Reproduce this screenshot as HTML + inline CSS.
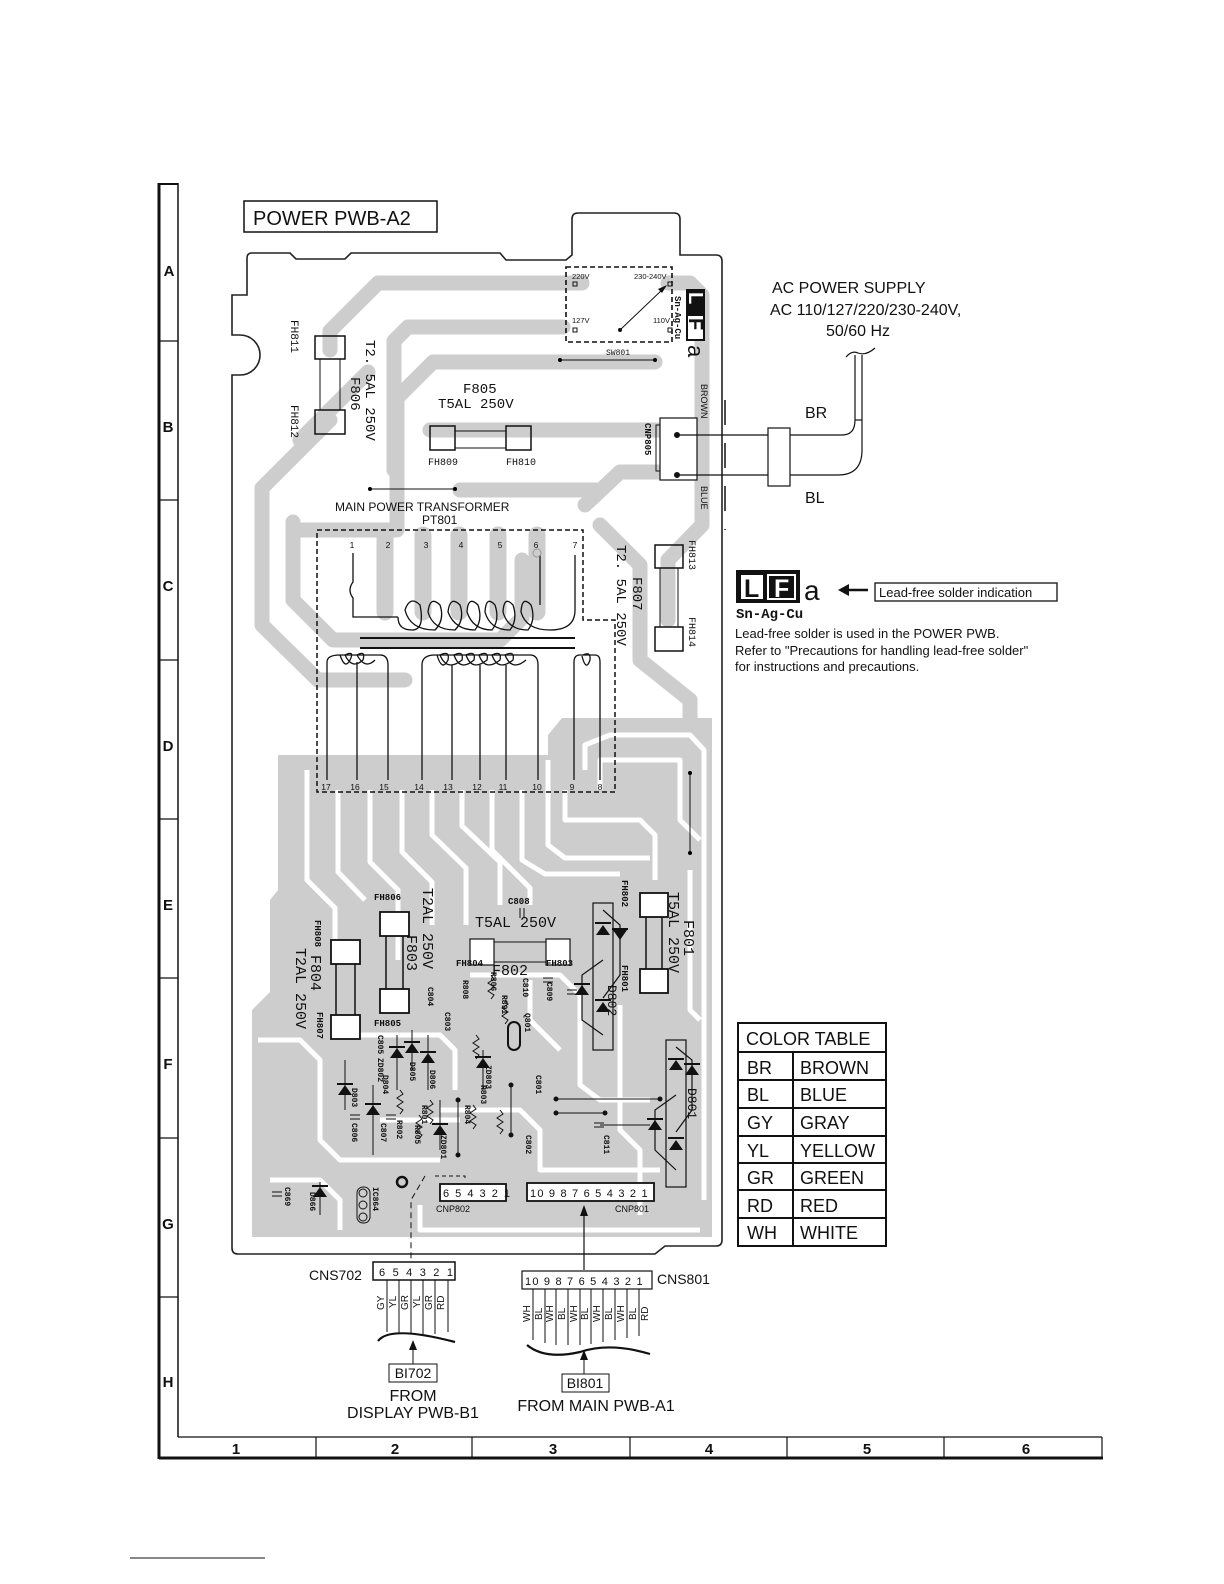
<!DOCTYPE html>
<html><head><meta charset="utf-8"><style>
html,body{margin:0;padding:0;background:#fff}
svg{display:block}
text{font-family:"Liberation Sans",sans-serif;fill:#111}
.m{font-family:"Liberation Mono",monospace}
</style></head><body>
<svg width="1224" height="1584" viewBox="0 0 1224 1584" xmlns="http://www.w3.org/2000/svg">
<!-- frame -->
<g stroke="#111" fill="none">
<line x1="159" y1="183" x2="159" y2="1459" stroke-width="3"/>
<line x1="178" y1="183" x2="178" y2="1437" stroke-width="1.5"/>
<line x1="159" y1="184" x2="178" y2="184" stroke-width="2"/>
<g stroke-width="1.2">
<line x1="159" y1="341" x2="178" y2="341"/><line x1="159" y1="500" x2="178" y2="500"/>
<line x1="159" y1="660" x2="178" y2="660"/><line x1="159" y1="819" x2="178" y2="819"/>
<line x1="159" y1="978" x2="178" y2="978"/><line x1="159" y1="1138" x2="178" y2="1138"/>
<line x1="159" y1="1297" x2="178" y2="1297"/>
<line x1="178" y1="1437" x2="1102" y2="1437"/>
<line x1="316" y1="1437" x2="316" y2="1457"/><line x1="472" y1="1437" x2="472" y2="1457"/>
<line x1="630" y1="1437" x2="630" y2="1457"/><line x1="787" y1="1437" x2="787" y2="1457"/>
<line x1="944" y1="1437" x2="944" y2="1457"/><line x1="1102" y1="1437" x2="1102" y2="1457"/>
</g>
<line x1="159" y1="1458" x2="1103" y2="1458" stroke-width="3"/>
</g>
<g font-weight="bold" font-size="15" text-anchor="middle">
<text x="169" y="276">A</text><text x="168" y="432">B</text><text x="168" y="591">C</text>
<text x="168" y="751">D</text><text x="168" y="910">E</text><text x="168" y="1069">F</text>
<text x="168" y="1229">G</text><text x="168" y="1387">H</text>
<text x="236" y="1454">1</text><text x="395" y="1454">2</text><text x="553" y="1454">3</text>
<text x="709" y="1454">4</text><text x="867" y="1454">5</text><text x="1026" y="1454">6</text>
</g>

<!-- gray traces -->
<g stroke="#cdcdcd" fill="none" stroke-linejoin="round" stroke-linecap="round">
<g stroke-width="15">
<path d="M582,283 H378 L330,331 V350"/>
<path d="M330,420 L262,488 V625 L318,680 H405"/>
<path d="M563,327 H408 L394,341 V470"/>
<path d="M560,362 H433 L397,398 V530 L300,530"/>
<path d="M293,522 V600 L333,640 H500 L522,618 V560"/>
<path d="M368,372 L300,440"/>
<path d="M668,283 H690 L702,295 V525 L668,560 V620"/>
<path d="M430,430 H690"/>
<path d="M585,505 L620,472 H690"/>
<path d="M460,490 H600"/>
<path d="M600,525 L640,565 V660 L690,700 V790"/>
<path d="M555,362 H655"/>
</g>
<g stroke-width="17">
<path d="M385,535 V612"/><path d="M423,535 V612"/><path d="M459,535 V612"/>
<path d="M498,535 V612"/><path d="M537,535 V612"/>
</g>
</g>
<!-- lower gray mass -->
<path fill="#cdcdcd" d="M278,755 H548 V735 L562,718 H712 V1237 H252 V1010 L270,992 V900 L278,890 Z"/>
<g stroke="#fff" fill="none" stroke-width="5" stroke-linejoin="round">
<path d="M307,770 V880 L335,908 V960"/>
<path d="M338,790 V872 L365,900"/>
<path d="M370,790 V862 L398,890 V960"/>
<path d="M402,790 V852 L432,882 V925"/>
<path d="M432,790 V835 L466,868 V925"/>
<path d="M462,790 V826 L500,862 V905"/>
<path d="M492,790 V850 L530,888 V905"/>
<path d="M522,790 V860 L545,874 H620"/>
<path d="M548,760 V845 L565,858 H650"/>
<path d="M585,770 V745 L610,735 H690 L704,750 V1200"/>
<path d="M600,790 V760 H680 V820 L700,840"/>
<path d="M565,790 V820 H640 L655,835 V880"/>
<path d="M258,1040 H300 L320,1060 V1140 L340,1160 H440"/>
<path d="M270,1180 H320 L340,1200 V1230"/>
<path d="M360,1035 H440 L455,1050 V1090"/>
<path d="M470,975 H560 L580,995 V1085 L600,1100 H650"/>
<path d="M440,1110 H520 L540,1130 V1170 H660"/>
<path d="M620,1005 V1130 L640,1150 V1215"/>
<path d="M420,1205 V1230 H700"/>
<path d="M560,1050 L530,1020 V980"/>
<path d="M380,1120 H460"/>
<path d="M690,870 V1010 L700,1020"/>
</g>

<!-- board outline -->
<path fill="none" stroke="#222" stroke-width="1.6" d="M247,258 Q247,253 252,253 H290 L296,259 H345 L351,253 H500 L506,260 H566 L572,255 V219 Q572,213 578,213 H674 Q680,213 680,219 V255 H716 Q722,255 722,261 V1240 Q722,1246 716,1246 H665 L655,1254 H238 Q232,1254 232,1248 V375 H240 A20,20 0 0 0 240,335 H232 V295 H247 Z"/>

<!-- title -->
<rect x="244" y="201" width="193" height="31" fill="none" stroke="#111" stroke-width="1.5"/>
<text x="253" y="225" font-size="20">POWER PWB-A2</text>

<!-- SW801 -->
<rect x="566" y="267" width="106" height="75" fill="none" stroke="#111" stroke-width="1.6" stroke-dasharray="5,3"/>
<g font-size="7.5"><text x="572" y="279">220V</text><text x="634" y="279">230-240V</text><text x="572" y="323">127V</text><text x="653" y="323">110V</text>
<text x="606" y="355" class="m" font-size="8">SW801</text></g>
<g fill="none" stroke="#111" stroke-width="1"><rect x="573" y="282" width="4" height="4"/><rect x="668" y="282" width="4" height="4"/><rect x="573" y="328" width="4" height="4"/><rect x="668" y="328" width="4" height="4"/></g>
<line x1="620" y1="330" x2="664" y2="288" stroke="#111" stroke-width="1"/>
<path d="M667,285 L658,289 L662,293 Z" fill="#111"/>
<circle cx="620" cy="330" r="2" fill="#111"/>
<line x1="560" y1="360" x2="655" y2="360" stroke="#111"/><circle cx="560" cy="360" r="2"/><circle cx="655" cy="360" r="2"/>
<!-- LFa on board -->
<rect x="686" y="289" width="19" height="52" fill="#111"/>
<rect x="688" y="316" width="15" height="23" fill="#fff"/>
<text transform="translate(689,292) rotate(90)" font-size="20" font-weight="bold" style="fill:#fff">L</text>
<text transform="translate(689,318) rotate(90)" font-size="20" font-weight="bold">F</text>
<text transform="translate(675,296) rotate(90)" class="m" font-size="9" font-weight="bold">Sn-Ag-Cu</text>
<text transform="translate(688,345) rotate(90)" font-size="22">a</text>

<!-- F806 -->
<g fill="none" stroke="#111" stroke-width="1.5">
<rect x="315" y="336" width="30" height="23"/><rect x="315" y="410" width="30" height="24"/>
<line x1="320" y1="359" x2="320" y2="410" stroke-width="1"/><line x1="340" y1="359" x2="340" y2="410" stroke-width="1"/>
</g>
<g class="m" font-size="11">
<text transform="translate(291,320) rotate(90)" class="m">FH811</text>
<text transform="translate(291,405) rotate(90)" class="m">FH812</text>
<text transform="translate(351,377) rotate(90)" class="m" font-size="14">F806</text>
<text transform="translate(366,340) rotate(90)" class="m" font-size="14">T2. 5AL 250V</text>
</g>
<!-- F805 -->
<g fill="none" stroke="#111" stroke-width="1.5">
<rect x="430" y="426" width="25" height="24"/><rect x="506" y="426" width="25" height="24"/>
<line x1="455" y1="431" x2="506" y2="431" stroke-width="1"/><line x1="455" y1="448" x2="506" y2="448" stroke-width="1"/>
</g>
<text x="463" y="393" class="m" font-size="14">F805</text>
<text x="438" y="408" class="m" font-size="14">T5AL 250V</text>
<text x="428" y="465" class="m" font-size="10">FH809</text><text x="506" y="465" class="m" font-size="10">FH810</text>
<line x1="370" y1="489" x2="455" y2="489" stroke="#111"/><circle cx="370" cy="489" r="2"/><circle cx="455" cy="489" r="2"/>

<!-- CNP805 and AC cable -->
<rect x="660" y="418" width="37" height="62" fill="#fff" stroke="#111" stroke-width="1.2"/>
<rect x="656" y="425" width="4" height="46" fill="none" stroke="#111"/>
<text transform="translate(645,423) rotate(90)" class="m" font-size="9" font-weight="bold">CNP805</text>
<text transform="translate(701,384) rotate(90)" font-size="9">BROWN</text>
<text transform="translate(701,486) rotate(90)" font-size="9">BLUE</text>
<line x1="725" y1="400" x2="725" y2="530" stroke="#111" stroke-width="1.5" stroke-dasharray="25,18"/>
<circle cx="677" cy="435" r="3" fill="#111"/><circle cx="677" cy="475" r="3" fill="#111"/>
<g fill="none" stroke="#111" stroke-width="1.2">
<path d="M677,435 H842 Q855,435 855,420 V355"/>
<path d="M677,475 H838 Q862,475 862,450 V355"/>
<line x1="855" y1="420" x2="862" y2="420"/>
<path d="M846,357 Q852,350 858,353 Q866,356 875,348"/>
<rect x="768" y="428" width="22" height="58" fill="#fff"/>
</g>
<text x="772" y="293" font-size="16">AC POWER SUPPLY</text>
<text x="770" y="315" font-size="16">AC 110/127/220/230-240V,</text>
<text x="826" y="336" font-size="16">50/60 Hz</text>
<text x="805" y="418" font-size="16">BR</text><text x="805" y="503" font-size="16">BL</text>

<!-- transformer -->
<text x="335" y="511" font-size="12">MAIN POWER TRANSFORMER</text>
<text x="422" y="524" font-size="12">PT801</text>
<path d="M317,530 H583 V620 H615 V792 H317 Z" fill="none" stroke="#111" stroke-width="1.5" stroke-dasharray="5,3"/>
<g font-size="8.5" text-anchor="middle">
<text x="352" y="548">1</text><text x="388" y="548">2</text><text x="426" y="548">3</text><text x="461" y="548">4</text><text x="500" y="548">5</text><text x="536" y="548">6</text><text x="575" y="548">7</text>
<text x="326" y="790">17</text><text x="355" y="790">16</text><text x="384" y="790">15</text><text x="419" y="790">14</text><text x="448" y="790">13</text><text x="477" y="790">12</text><text x="503" y="790">11</text><text x="537" y="790">10</text><text x="572" y="790">9</text><text x="600" y="790">8</text>
</g>
<g fill="none" stroke="#111" stroke-width="1.3">
<path d="M353,553 V582 Q347,590 353,598 V617 H398"/>
<path d="M398,617 Q398,630 412,630 Q425,630 420,605 Q410,595 405,610 Q410,630 435,630 Q445,620 440,605 Q430,595 428,612 Q433,630 455,630 Q465,620 460,605 Q450,595 448,612 Q455,630 475,630 Q483,620 478,605 Q468,595 467,612 Q473,630 492,630 Q500,620 495,605 Q486,595 485,612 Q490,630 510,630 Q518,620 513,605 Q504,595 503,612 Q508,630 528,630 Q536,620 531,605 Q522,595 521,612 Q526,630 550,630 Q575,630 575,610 V555"/>
<line x1="540" y1="555" x2="540" y2="605"/>
<line x1="360" y1="638" x2="575" y2="638" stroke-width="2"/>
<line x1="360" y1="648" x2="575" y2="648" stroke-width="2"/>
<path d="M327,780 V662 Q327,655 340,655 H380 Q388,655 388,665 V780"/>
<path d="M340,655 Q345,670 350,660 Q355,650 345,655 Q352,670 363,660 Q366,650 357,655 Q365,670 375,660"/>
<line x1="357" y1="662" x2="357" y2="780"/>
<path d="M422,780 V665 Q422,655 435,655 H530 Q538,655 538,665 V780"/>
<path d="M437,655 Q442,672 448,660 Q450,650 440,655 Q447,672 462,660 Q464,650 454,655 Q460,672 474,660 Q476,650 466,655 Q472,672 487,660 Q489,650 479,655 Q485,672 500,660 Q502,650 492,655 Q498,672 513,660 Q515,650 505,655 Q512,672 526,660"/>
<line x1="452" y1="665" x2="452" y2="780"/><line x1="480" y1="665" x2="480" y2="780"/><line x1="506" y1="665" x2="506" y2="780"/>
<path d="M574,780 V662 Q574,655 580,655 H595 Q600,655 600,662 V780"/>
<path d="M582,656 Q586,672 590,660 Q591,651 583,655"/>
</g>
<circle cx="537" cy="553" r="4" fill="none" stroke="#999"/>
<!-- F807 -->
<g fill="none" stroke="#111" stroke-width="1.5">
<rect x="655" y="545" width="28" height="23"/><rect x="655" y="627" width="28" height="24"/>
<line x1="660" y1="568" x2="660" y2="627" stroke-width="1"/><line x1="678" y1="568" x2="678" y2="627" stroke-width="1"/>
</g>
<g class="m">
<text transform="translate(689,540) rotate(90)" class="m" font-size="10">FH813</text>
<text transform="translate(689,617) rotate(90)" class="m" font-size="10">FH814</text>
<text transform="translate(633,577) rotate(90)" class="m" font-size="14">F807</text>
<text transform="translate(617,545) rotate(90)" class="m" font-size="14">T2. 5AL 250V</text>
</g>
<line x1="690" y1="773" x2="690" y2="853" stroke="#111"/><circle cx="690" cy="773" r="2"/><circle cx="690" cy="853" r="2"/>

<!-- lower components -->
<g fill="#fff" stroke="#111" stroke-width="1.8">
<rect x="380" y="912" width="29" height="24"/><rect x="380" y="989" width="29" height="24"/>
<rect x="331" y="940" width="29" height="24"/><rect x="331" y="1015" width="29" height="24"/>
<rect x="470" y="939" width="24" height="26" stroke-width="1.2"/><rect x="546" y="939" width="24" height="26" stroke-width="1.2"/>
<rect x="640" y="893" width="28" height="24"/><rect x="640" y="969" width="28" height="24"/>
</g>
<g stroke="#111" stroke-width="1.5">
<line x1="386" y1="936" x2="386" y2="989"/><line x1="403" y1="936" x2="403" y2="989"/>
<line x1="336" y1="964" x2="336" y2="1015"/><line x1="355" y1="964" x2="355" y2="1015"/>
<line x1="494" y1="942" x2="546" y2="942" stroke-width="1"/><line x1="494" y1="962" x2="546" y2="962" stroke-width="1"/>
<line x1="646" y1="917" x2="646" y2="969"/><line x1="662" y1="917" x2="662" y2="969"/>
</g>
<g class="m" font-size="9" font-weight="bold">
<text x="374" y="900" class="m">FH806</text><text x="374" y="1026" class="m">FH805</text>
<text x="456" y="966" class="m">FH804</text><text x="546" y="966" class="m">FH803</text>
<text transform="translate(315,920) rotate(90)" class="m">FH808</text>
<text transform="translate(317,1012) rotate(90)" class="m">FH807</text>
<text transform="translate(622,880) rotate(90)" class="m">FH802</text>
<text transform="translate(622,965) rotate(90)" class="m">FH801</text>
<text x="508" y="904" class="m">C808</text>
</g>
<g class="m" font-size="15">
<text transform="translate(423,888) rotate(90)" class="m">T2AL 250V</text>
<text transform="translate(407,935) rotate(90)" class="m">F803</text>
<text x="475" y="927" class="m">T5AL 250V</text>
<text x="492" y="975" class="m">F802</text>
<text transform="translate(296,948) rotate(90)" class="m">T2AL 250V</text>
<text transform="translate(311,955) rotate(90)" class="m">F804</text>
<text transform="translate(669,892) rotate(90)" class="m">T5AL 250V</text>
<text transform="translate(684,920) rotate(90)" class="m">F801</text>
<text transform="translate(608,985) rotate(90)" class="m" font-size="13">D802</text>
<text transform="translate(688,1088) rotate(90)" class="m" font-size="13">D801</text>
</g>
<!-- bridge D802 / D801 -->
<g fill="none" stroke="#111" stroke-width="1.2">
<rect x="593" y="903" width="20" height="147"/>
<rect x="666" y="1040" width="20" height="147"/>
<path d="M603,910 L620,925 V975 L603,998"/><path d="M603,960 L582,975 V1020 L603,1035"/>
<path d="M676,1047 L692,1060 V1110 L676,1132"/><path d="M676,1095 L655,1110 V1150 L676,1170"/>
</g>
<g fill="#111">
<path d="M596,935 H610 L603,925 Z"/><rect x="595" y="922" width="16" height="2"/>
<path d="M613,930 H627 L620,940 Z"/><rect x="612" y="928" width="16" height="2"/>
<path d="M596,1012 H610 L603,1002 Z"/><rect x="595" y="999" width="16" height="2"/>
<path d="M575,995 H589 L582,985 Z"/><rect x="574" y="983" width="16" height="2"/>
<path d="M669,1070 H683 L676,1060 Z"/><rect x="668" y="1058" width="16" height="2"/>
<path d="M685,1075 H699 L692,1065 Z"/><rect x="684" y="1063" width="16" height="2"/>
<path d="M669,1150 H683 L676,1140 Z"/><rect x="668" y="1137" width="16" height="2"/>
<path d="M648,1130 H662 L655,1120 Z"/><rect x="647" y="1118" width="16" height="2"/>
<path d="M338,1095 H352 L345,1085 Z"/><rect x="337" y="1083" width="16" height="2"/>
<path d="M366,1115 H380 L373,1105 Z"/><rect x="365" y="1103" width="16" height="2"/>
<path d="M405,1053 H419 L412,1043 Z"/><rect x="404" y="1041" width="16" height="2"/>
<path d="M421,1063 H435 L428,1053 Z"/><rect x="420" y="1051" width="16" height="2"/>
<path d="M390,1058 H404 L397,1048 Z"/><rect x="389" y="1046" width="16" height="2"/>
<path d="M476,1068 H490 L483,1058 Z"/><rect x="475" y="1056" width="16" height="2"/>
<path d="M433,1135 H447 L440,1125 Z"/><rect x="432" y="1123" width="16" height="2"/>
<path d="M313,1197 H327 L320,1187 Z"/><rect x="312" y="1185" width="16" height="2"/>
</g>
<g stroke="#111" stroke-width="1" fill="none">
<line x1="345" y1="1060" x2="345" y2="1110"/><line x1="373" y1="1085" x2="373" y2="1155"/>
<line x1="412" y1="1030" x2="412" y2="1070"/><line x1="428" y1="1035" x2="428" y2="1090"/>
<line x1="397" y1="1035" x2="397" y2="1090"/><line x1="483" y1="1050" x2="483" y2="1090"/>
<line x1="440" y1="1100" x2="440" y2="1150"/><line x1="320" y1="1182" x2="320" y2="1215"/>
<line x1="458" y1="1100" x2="458" y2="1155"/><circle cx="458" cy="1100" r="2" fill="#111"/><circle cx="458" cy="1155" r="2" fill="#111"/>
<line x1="511" y1="1085" x2="511" y2="1135"/><circle cx="511" cy="1085" r="2" fill="#111"/><circle cx="511" cy="1135" r="2" fill="#111"/>
<line x1="556" y1="1099" x2="660" y2="1099"/><circle cx="556" cy="1099" r="2" fill="#111"/><circle cx="660" cy="1099" r="2" fill="#111"/>
<line x1="556" y1="1113" x2="605" y2="1113"/><circle cx="556" cy="1113" r="2" fill="#111"/><circle cx="605" cy="1113" r="2" fill="#111"/>
<line x1="600" y1="1125" x2="650" y2="1125"/>
<path d="M400,1090 l3,4 -6,4 6,4 -6,4 6,4 -3,4"/><path d="M430,1100 l3,4 -6,4 6,4 -6,4 6,4 -3,4"/>
<path d="M476,1035 l3,4 -6,4 6,4 -6,4 6,4 -3,4"/><path d="M491,975 l3,4 -6,4 6,4 -6,4 6,4 -3,4"/>
<path d="M505,1000 l3,4 -6,4 6,4 -6,4 6,4 -3,4"/><path d="M473,1105 l3,4 -6,4 6,4 -6,4 6,4 -3,4"/>
<path d="M500,1110 l3,4 -6,4 6,4 -6,4 6,4 -3,4"/><path d="M419,1115 l3,4 -6,4 6,4 -6,4 6,4 -3,4"/>
<line x1="350" y1="1115" x2="360" y2="1115"/><line x1="350" y1="1119" x2="360" y2="1119"/>
<line x1="386" y1="1115" x2="396" y2="1115"/><line x1="386" y1="1119" x2="396" y2="1119"/>
<line x1="272" y1="1192" x2="282" y2="1192"/><line x1="272" y1="1196" x2="282" y2="1196"/>
<line x1="594" y1="1123" x2="604" y2="1123"/><line x1="594" y1="1127" x2="604" y2="1127"/>
<line x1="543" y1="978" x2="553" y2="978"/><line x1="543" y1="982" x2="553" y2="982"/>
<line x1="567" y1="990" x2="577" y2="990"/><line x1="567" y1="994" x2="577" y2="994"/>
<line x1="520" y1="908" x2="520" y2="918"/><line x1="524" y1="908" x2="524" y2="918"/>
<rect x="508" y="1022" width="12" height="28" rx="6" stroke-width="2"/>
<circle cx="402" cy="1182" r="5" stroke-width="2.5"/>
<rect x="357" y="1187" width="13" height="36" rx="6"/>
<circle cx="363" cy="1193" r="4"/><circle cx="363" cy="1205" r="4"/><circle cx="363" cy="1217" r="4"/>
</g>
<g class="m" font-size="8" font-weight="bold">
<text transform="translate(428,987) rotate(90)" class="m">C804</text>
<text transform="translate(445,1012) rotate(90)" class="m">C803</text>
<text transform="translate(463,980) rotate(90)" class="m">R808</text>
<text transform="translate(491,972) rotate(90)" class="m">R806</text>
<text transform="translate(502,995) rotate(90)" class="m">R891</text>
<text transform="translate(525,1013) rotate(90)" class="m">Q801</text>
<text transform="translate(523,978) rotate(90)" class="m">C810</text>
<text transform="translate(547,982) rotate(90)" class="m">C809</text>
<text transform="translate(378,1035) rotate(90)" class="m">C805</text>
<text transform="translate(378,1058) rotate(90)" class="m">ZD802</text>
<text transform="translate(383,1075) rotate(90)" class="m">D804</text>
<text transform="translate(410,1062) rotate(90)" class="m">D805</text>
<text transform="translate(430,1070) rotate(90)" class="m">D806</text>
<text transform="translate(486,1065) rotate(90)" class="m">ZD803</text>
<text transform="translate(481,1085) rotate(90)" class="m">R803</text>
<text transform="translate(536,1075) rotate(90)" class="m">C801</text>
<text transform="translate(465,1105) rotate(90)" class="m">R804</text>
<text transform="translate(352,1088) rotate(90)" class="m">D803</text>
<text transform="translate(352,1123) rotate(90)" class="m">C806</text>
<text transform="translate(381,1123) rotate(90)" class="m">C807</text>
<text transform="translate(397,1120) rotate(90)" class="m">R802</text>
<text transform="translate(415,1125) rotate(90)" class="m">R805</text>
<text transform="translate(422,1105) rotate(90)" class="m">R801</text>
<text transform="translate(441,1135) rotate(90)" class="m">ZD801</text>
<text transform="translate(526,1135) rotate(90)" class="m">C802</text>
<text transform="translate(604,1135) rotate(90)" class="m">C811</text>
<text transform="translate(285,1187) rotate(90)" class="m">C869</text>
<text transform="translate(310,1192) rotate(90)" class="m">D866</text>
<text transform="translate(373,1187) rotate(90)" class="m">IC864</text>
</g>
<!-- CNP802/801 -->
<rect x="440" y="1184" width="66" height="17" fill="#fff" stroke="#111" stroke-width="1.8"/>
<text x="443" y="1197" font-size="11" letter-spacing="1.5">6 5 4 3 2 1</text>
<text x="436" y="1212" font-size="9">CNP802</text>
<rect x="527" y="1183" width="127" height="18" fill="#fff" stroke="#111" stroke-width="1.8"/>
<text x="530" y="1197" font-size="11" letter-spacing="1.2">10 9 8 7 6 5 4 3  2 1</text>
<text x="615" y="1212" font-size="9">CNP801</text>

<!-- connectors to outside -->
<path d="M435,1176 H465 V1180" fill="none" stroke="#111" stroke-dasharray="4,3"/>
<path d="M425,1176 L411,1200 V1262" fill="none" stroke="#111" stroke-dasharray="6,4"/>
<line x1="584" y1="1214" x2="584" y2="1270" stroke="#111" stroke-width="1.2"/>
<path d="M584,1205 L580,1216 H588 Z" fill="#111"/>

<text x="309" y="1280" font-size="14">CNS702</text>
<rect x="373" y="1262" width="82" height="18" fill="none" stroke="#111" stroke-width="1.5"/>
<text x="379" y="1276" font-size="11" letter-spacing="2.2">6 5 4 3 2 1</text>
<g stroke="#111" stroke-width="1">
<line x1="387" y1="1280" x2="387" y2="1332"/><line x1="399" y1="1280" x2="399" y2="1334"/>
<line x1="411" y1="1280" x2="411" y2="1334"/><line x1="423" y1="1280" x2="423" y2="1334"/>
<line x1="435" y1="1280" x2="435" y2="1334"/><line x1="448" y1="1280" x2="448" y2="1332"/>
</g>
<path d="M378,1341 Q390,1325 455,1342" fill="none" stroke="#111" stroke-width="2.2"/>
<g font-size="10">
<text transform="translate(384,1310) rotate(-90)">GY</text><text transform="translate(396,1308) rotate(-90)">YL</text>
<text transform="translate(408,1310) rotate(-90)">GR</text><text transform="translate(420,1308) rotate(-90)">YL</text>
<text transform="translate(432,1310) rotate(-90)">GR</text><text transform="translate(444,1310) rotate(-90)">RD</text>
</g>
<line x1="413" y1="1345" x2="413" y2="1364" stroke="#111"/><path d="M413,1340 L409,1350 H417 Z" fill="#111"/>
<rect x="389" y="1364" width="48" height="18" fill="none" stroke="#111"/>
<text x="413" y="1378" font-size="14" text-anchor="middle">BI702</text>
<text x="413" y="1401" font-size="16" text-anchor="middle">FROM</text>
<text x="413" y="1418" font-size="16" text-anchor="middle">DISPLAY PWB-B1</text>

<rect x="522" y="1271" width="130" height="18" fill="none" stroke="#111" stroke-width="1.2"/>
<text x="525" y="1285" font-size="11" letter-spacing="1.2">10 9 8 7 6 5 4 3 2 1</text>
<text x="657" y="1284" font-size="14">CNS801</text>
<g stroke="#111" stroke-width="1">
<line x1="533" y1="1289" x2="533" y2="1340"/><line x1="545" y1="1289" x2="545" y2="1343"/>
<line x1="556" y1="1289" x2="556" y2="1345"/><line x1="568" y1="1289" x2="568" y2="1345"/>
<line x1="580" y1="1289" x2="580" y2="1345"/><line x1="591" y1="1289" x2="591" y2="1344"/>
<line x1="603" y1="1289" x2="603" y2="1342"/><line x1="615" y1="1289" x2="615" y2="1340"/>
<line x1="627" y1="1289" x2="627" y2="1338"/><line x1="639" y1="1289" x2="639" y2="1336"/>
</g>
<path d="M527,1345 Q545,1360 580,1352 Q610,1342 650,1354" fill="none" stroke="#111" stroke-width="2.2"/>
<g font-size="10">
<text transform="translate(530,1322) rotate(-90)">WH</text><text transform="translate(542,1320) rotate(-90)">BL</text>
<text transform="translate(553,1322) rotate(-90)">WH</text><text transform="translate(565,1320) rotate(-90)">BL</text>
<text transform="translate(577,1322) rotate(-90)">WH</text><text transform="translate(588,1320) rotate(-90)">BL</text>
<text transform="translate(600,1322) rotate(-90)">WH</text><text transform="translate(612,1320) rotate(-90)">BL</text>
<text transform="translate(624,1322) rotate(-90)">WH</text><text transform="translate(636,1320) rotate(-90)">BL</text>
<text transform="translate(648,1321) rotate(-90)">RD</text>
</g>
<line x1="584" y1="1355" x2="584" y2="1374" stroke="#111"/><path d="M584,1350 L580,1360 H588 Z" fill="#111"/>
<rect x="562" y="1374" width="47" height="18" fill="none" stroke="#111"/>
<text x="585" y="1388" font-size="14" text-anchor="middle">BI801</text>
<text x="596" y="1411" font-size="16" text-anchor="middle">FROM MAIN PWB-A1</text>

<!-- lead-free legend -->
<rect x="736" y="570" width="64" height="33" fill="#111"/>
<rect x="741" y="575" width="22" height="24" fill="#fff"/>
<rect x="768" y="575" width="27" height="24" fill="#111" stroke="#fff" stroke-width="2"/>
<text x="744" y="597" font-size="25" font-weight="bold" style="fill:#111">L</text>
<text x="774" y="597" font-size="25" font-weight="bold" style="fill:#fff">F</text>
<text x="804" y="600" font-size="28">a</text>
<line x1="845" y1="590" x2="868" y2="590" stroke="#111" stroke-width="2.5"/><path d="M838,590 L849,584 V596 Z" fill="#111"/>
<rect x="875" y="583" width="182" height="18" fill="none" stroke="#111" stroke-width="1.3"/>
<text x="879" y="597" font-size="13">Lead-free solder indication</text>
<text x="736" y="618" font-size="14" font-weight="bold" style="font-family:'Liberation Mono',monospace">Sn-Ag-Cu</text>
<text x="735" y="638" font-size="13">Lead-free solder is used in the POWER PWB.</text>
<text x="735" y="655" font-size="13">Refer to "Precautions for handling lead-free solder"</text>
<text x="735" y="671" font-size="13">for instructions and precautions.</text>

<!-- color table -->
<g fill="none" stroke="#111" stroke-width="2">
<rect x="738" y="1023" width="148" height="223"/>
<line x1="738" y1="1052" x2="886" y2="1052"/>
<line x1="738" y1="1080" x2="886" y2="1080"/><line x1="738" y1="1108" x2="886" y2="1108"/>
<line x1="738" y1="1136" x2="886" y2="1136"/><line x1="738" y1="1163" x2="886" y2="1163"/>
<line x1="738" y1="1190" x2="886" y2="1190"/><line x1="738" y1="1218" x2="886" y2="1218"/>
<line x1="793" y1="1052" x2="793" y2="1246"/>
</g>
<g font-size="18">
<text x="746" y="1045">COLOR TABLE</text>
<text x="747" y="1074">BR</text><text x="800" y="1074">BROWN</text>
<text x="747" y="1101">BL</text><text x="800" y="1101">BLUE</text>
<text x="747" y="1129">GY</text><text x="800" y="1129">GRAY</text>
<text x="747" y="1157">YL</text><text x="800" y="1157">YELLOW</text>
<text x="747" y="1184">GR</text><text x="800" y="1184">GREEN</text>
<text x="747" y="1212">RD</text><text x="800" y="1212">RED</text>
<text x="747" y="1239">WH</text><text x="800" y="1239">WHITE</text>
</g>
<line x1="130" y1="1558" x2="265" y2="1558" stroke="#111"/>
</svg>
</body></html>
